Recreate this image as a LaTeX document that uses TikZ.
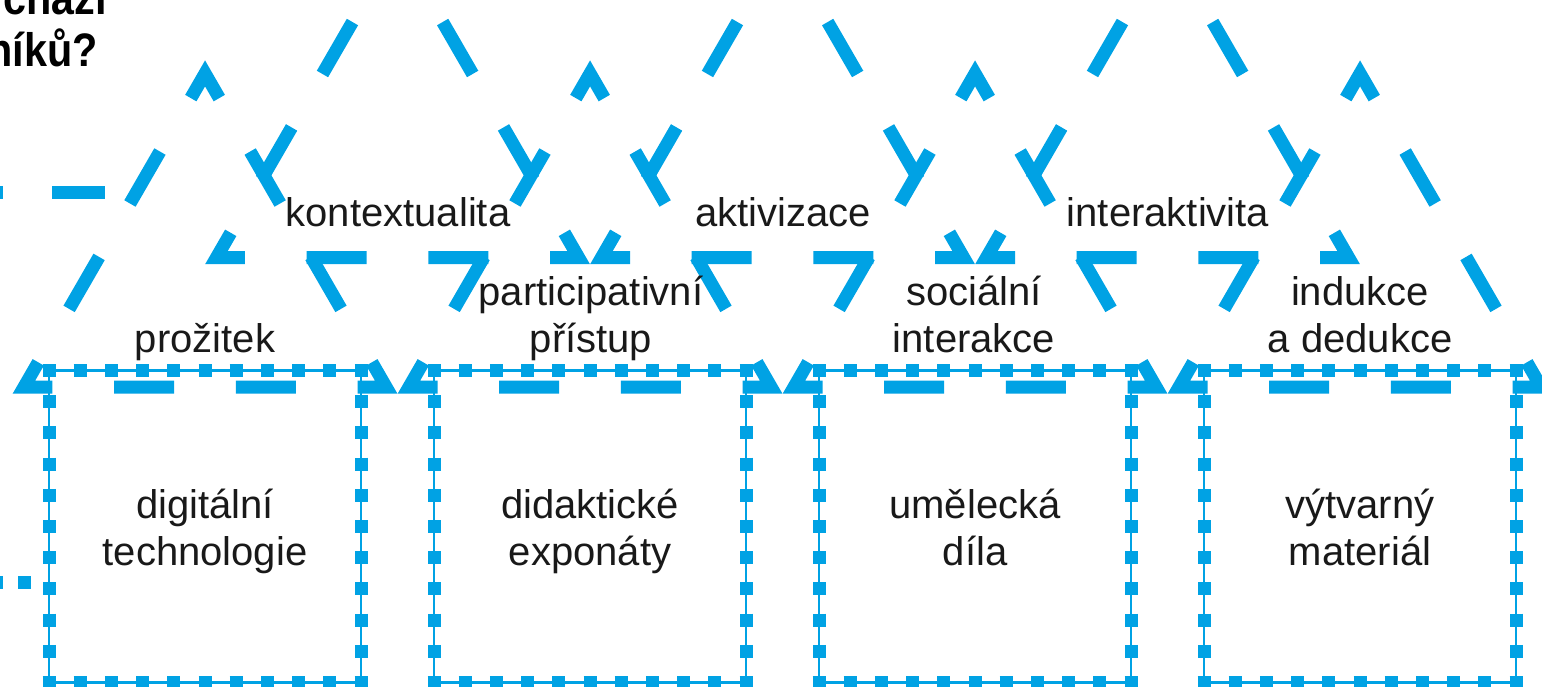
\documentclass[tikz,border=0pt]{standalone}
\usepackage{fontspec}
\setmainfont{Liberation Sans}
\usetikzlibrary{calc}
\definecolor{skyb}{RGB}{0,162,228}
\definecolor{ink}{RGB}{25,25,25}
\tikzset{
  tri/.style={draw=skyb, line width=13pt, line join=miter, miter limit=10,
    dash pattern=on 60pt off 61.7pt on 57pt off 61.7pt on 60pt off 61.7pt,
    dash phase=331.25pt},
  boxline/.style={draw=skyb, line width=2.6pt, minimum width=312pt,
    minimum height=312pt, inner sep=0pt, outer sep=0pt},
  boxdots/.style={draw=skyb, line width=13pt, line cap=butt,
    dash pattern=on 13pt off 18.2pt},
  lbl/.style={font=\fontsize{40}{47}\selectfont, text=ink, inner sep=0pt, anchor=base},
  titletext/.style={font=\fontsize{47}{54}\selectfont\bfseries, text=black,
    inner sep=0pt, anchor=base east},
  bar/.style={draw=skyb, line width=13pt}
}
\begin{document}
\begin{tikzpicture}[x=1pt,y=-1pt]
\useasboundingbox (0,0) rectangle (1542,687);
\clip (0,0) rectangle (1542,687);
% lower row of triangles
\foreach \k in {0,1,2,3}{
  \coordinate (AL\k) at ({24+385*\k},387);
  \coordinate (AR\k) at ({386.1+385*\k},387);
  \coordinate (AT\k) at ({205.05+385*\k},73.41);
  \coordinate (AM\k) at ({205.05+385*\k},387);
  \draw[tri] (AM\k) -- (AR\k) -- (AT\k) -- (AL\k) -- cycle;
}
% upper row of triangles
\foreach \k in {0,1,2}{
  \coordinate (BL\k) at ({216.5+385*\k},257.5);
  \coordinate (BR\k) at ({578.6+385*\k},257.5);
  \coordinate (BT\k) at ({397.55+385*\k},-56.09);
  \coordinate (BM\k) at ({397.55+385*\k},257.5);
  \draw[tri] (BM\k) -- (BR\k) -- (BT\k) -- (BL\k) -- cycle;
}
% boxes
\foreach \k/\n in {0/b1,1/b2,2/b3,3/b4}{
  \node[boxline] (\n) at ({205+385*\k},526.5) {};
  \draw[boxdots] ($(\n.north west)+(-6.5,0)$) -- ($(\n.north east)+(6.5,0)$);
  \draw[boxdots] ($(\n.south west)+(-6.5,0)$) -- ($(\n.south east)+(6.5,0)$);
  \draw[boxdots] ($(\n.north west)+(0,-6.5)$) -- ($(\n.south west)+(0,6.5)$);
  \draw[boxdots] ($(\n.north east)+(0,-6.5)$) -- ($(\n.south east)+(0,6.5)$);
}
% marks at the left edge
\draw[bar] (-12,193) -- (3,193);
\draw[bar] (52,193) -- (105,193);
\fill[skyb] (18,575.5) rectangle ++(13,13);
\fill[skyb] (-10,575.5) rectangle ++(13,13);
% title fragments
\node[titletext] (t1) at (107,15) {\scalebox{0.88}[1]{chází}};
\node[titletext] (t2) at (98,67) {\scalebox{0.88}[1]{níků?}};
% labels between triangles
\node[lbl] (kon) at (398,227) {kontextualita};
\node[lbl] (akt) at (783,227) {aktivizace};
\node[lbl] (int) at (1168,227) {interaktivita};
\node[lbl] (pro) at (205,352) {prožitek};
\node[lbl] (par) at (591,305) {participativní};
\node[lbl] (pri) at (591,352) {přístup};
\node[lbl] (soc) at (974,305) {sociální};
\node[lbl] (inr) at (974,352) {interakce};
\node[lbl] (ind) at (1360,305) {indukce};
\node[lbl] (ded) at (1360,352) {a dedukce};
% box texts
\node[lbl] (b1a) at (205,518) {digitální};
\node[lbl] (b1b) at (205,565) {technologie};
\node[lbl] (b2a) at (590,518) {didaktické};
\node[lbl] (b2b) at (590,565) {exponáty};
\node[lbl] (b3a) at (975,518) {umělecká};
\node[lbl] (b3b) at (975,565) {díla};
\node[lbl] (b4a) at (1360,518) {výtvarný};
\node[lbl] (b4b) at (1360,565) {materiál};
\end{tikzpicture}
\end{document}
